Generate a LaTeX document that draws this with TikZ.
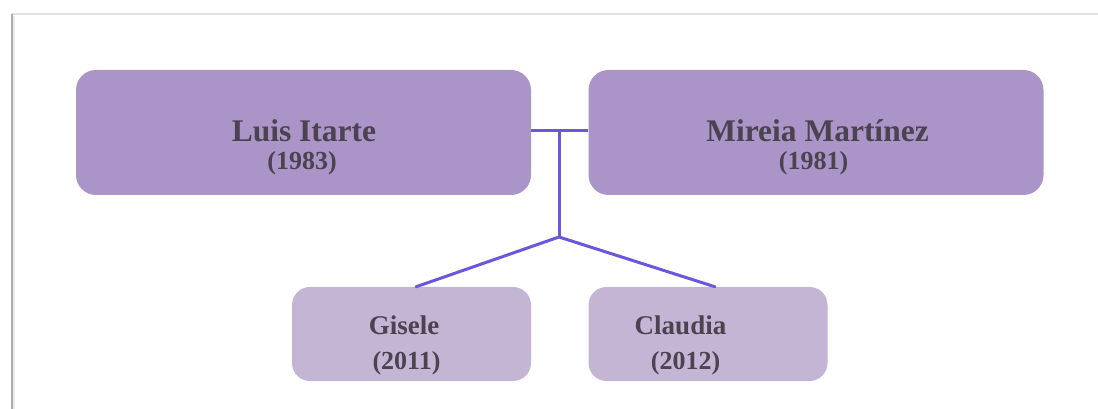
\documentclass[tikz,border=0pt]{standalone}
\usepackage{fontspec}
\setmainfont{Liberation Serif}
\definecolor{bigfill}{HTML}{AB94C7}
\definecolor{smallfill}{HTML}{C4B5D5}
\definecolor{linkcol}{HTML}{6A57DC}
\definecolor{txtcol}{HTML}{4B4350}
\begin{document}
\begin{tikzpicture}[x=1pt,y=1pt,
  bigbox/.style={fill=bigfill,draw=none,rounded corners=20pt,minimum width=455pt,minimum height=125pt,inner sep=0pt},
  smallbox/.style={fill=smallfill,draw=none,rounded corners=18pt,minimum width=239pt,minimum height=94pt,inner sep=0pt},
  nametxt/.style={text=txtcol,font=\bfseries\fontsize{31.5}{34}\selectfont,inner sep=0pt,anchor=base},
  yeartxt/.style={text=txtcol,font=\bfseries\fontsize{26}{28}\selectfont,inner sep=0pt,anchor=base},
  kidname/.style={text=txtcol,font=\bfseries\fontsize{27}{30}\selectfont,inner sep=0pt,anchor=base},
  link/.style={draw=linkcol,line width=3pt}]
\useasboundingbox (0,0) rectangle (1098,409);
\fill[white] (0,0) rectangle (1098,409);
% page frame shadow
\draw[black!12,line width=1.5pt] (12,395) -- (1098,395);
\draw[black!32,line width=2pt] (12,395) -- (12,0);
\draw[black!8,line width=2pt] (14,393) -- (14,0);
% boxes
\node[bigbox] (L) at (303.5,276.5) {};
\node[bigbox] (M) at (816,276.5) {};
\node[smallbox] (G) at (411.5,75) {};
\node[smallbox] (C) at (708,75) {};
% texts
\node[nametxt] (Ln) at (304,267) {Luis Itarte};
\node[yeartxt] (Ly) at (302,239) {(1983)};
\node[nametxt] (Mn) at (817.5,267) {Mireia Martínez};
\node[yeartxt] (My) at (813.5,239) {(1981)};
\node[kidname] (Gn) at (404,74) {Gisele};
\node[yeartxt] (Gy) at (406.5,39) {(2011)};
\node[kidname] (Cn) at (680.5,74) {Claudia};
\node[yeartxt] (Cy) at (685.5,39) {(2012)};
% connectors
\coordinate (m) at (559,278);
\coordinate (j) at (559,172);
\draw[link] (L.east |- m) -- (M.west |- m);
\draw[link] (m) -- (j);
\draw[link,line cap=round] ([xshift=4.5pt]G.north) -- (j) -- ([xshift=7pt]C.north);
\end{tikzpicture}
\end{document}
